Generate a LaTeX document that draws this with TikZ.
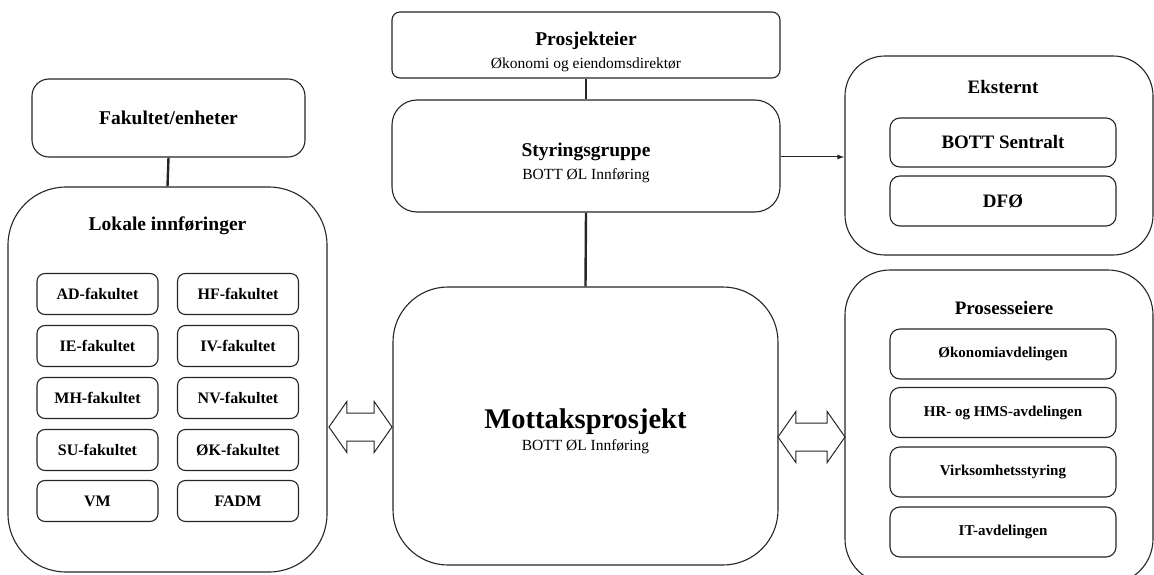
\documentclass[tikz,border=0pt]{standalone}
\usepackage{fontspec}
\setmainfont{Liberation Serif}
\usetikzlibrary{arrows.meta,shapes.arrows}
\newcommand\fTitle{\fontsize{19.5}{23}\selectfont\bfseries}
\newcommand\fSub{\fontsize{15.5}{23}\selectfont\mdseries}
\newcommand\fBig{\fontsize{28.5}{23}\selectfont\bfseries}
\newcommand\fLeft{\fontsize{16}{19}\selectfont\bfseries}
\newcommand\fRight{\fontsize{15}{18}\selectfont\bfseries}
\newcommand\fExt{\fontsize{19}{22}\selectfont\bfseries}
\begin{document}
\begin{tikzpicture}[x=1pt,y=-1pt,
  box/.style={draw=black!85, line width=1.1pt, fill=white, align=center, inner sep=0pt, font=\fSub},
  txt/.style={align=center, inner sep=0pt, font=\fSub},
  conn/.style={line width=2.4pt, draw=black!85},
  dbl/.style={double arrow, draw=black!85, line width=1pt, fill=white, inner xsep=0pt, inner ysep=13.5pt,
     minimum width=50pt, double arrow head extend=11.5pt, double arrow tip angle=110},
  ttl/.style={font=\fTitle, inner sep=0pt},
]
\useasboundingbox (0,0) rectangle (1154,575);
\clip (0,0) rectangle (1154,575);

% central column
\node[box, rounded corners=8pt, minimum width=388pt, minimum height=66pt] (pe) at (586,45) {};
\node[txt] (peT) at (586,52) {{\fTitle Prosjekteier}\\{\fSub Økonomi og eiendomsdirektør}};
\node[box, rounded corners=25pt, minimum width=388pt, minimum height=112pt] (sg) at (586,156) {};
\node[txt] (sgT) at (586,162.5) {{\fTitle Styringsgruppe}\\{\fSub BOTT ØL Innføring}};
\node[box, rounded corners=55pt, minimum width=385pt, minimum height=278pt] (mp) at (585.5,426) {};
\node[txt] (mpT) at (585.5,431) {{\fBig Mottaksprosjekt}\\[-1pt]{\fSub BOTT ØL Innføring}};

% left column
\node[box, rounded corners=17pt, minimum width=273pt, minimum height=78pt, font=\fTitle] (fe) at (168.5,118) {Fakultet/enheter};
\node[box, rounded corners=58pt, minimum width=319pt, minimum height=385pt] (li) at (167.5,379.5) {};
\node[ttl] (liT) at (167.5,226) {Lokale innføringer};

\foreach \nm/\cx/\cy/\tx in {ad/97.5/294/AD-fakultet, hf/238/294/HF-fakultet,
   ie/97.5/346/IE-fakultet, iv/238/346/IV-fakultet,
   mh/97.5/398/MH-fakultet, nv/238/398/NV-fakultet,
   su/97.5/450/SU-fakultet, ok/238/450/ØK-fakultet,
   vm/97.5/501/VM, fadm/238/501/FADM}
  \node[box, rounded corners=8pt, minimum width=121pt, minimum height=41pt, font=\fLeft] (\nm) at (\cx,\cy) {\tx};

% right column
\node[box, rounded corners=40pt, minimum width=308pt, minimum height=199pt] (ek) at (999,155.5) {};
\node[ttl, font=\fExt] (ekT) at (1003,87) {Eksternt};
\node[box, rounded corners=10pt, minimum width=226pt, minimum height=49pt, font=\fExt] (bs) at (1003,142.5) {BOTT Sentralt};
\node[box, rounded corners=10pt, minimum width=226pt, minimum height=50pt, font=\fExt] (dfo) at (1003,201) {DFØ};

\node[box, rounded corners=45pt, minimum width=308pt, minimum height=314pt] (pr) at (999,427) {};
\node[ttl, font=\fExt] (prT) at (1004,308) {Prosesseiere};
\foreach \nm/\cy/\tx in {oa/354/Økonomiavdelingen, hr/412.5/HR- og HMS-avdelingen,
   vs/472/Virksomhetsstyring, it/532/IT-avdelingen}
  \node[box, rounded corners=10pt, minimum width=226pt, minimum height=50pt, font=\fRight] (\nm) at (1003,\cy) {\tx};

% connectors
\draw[conn] (pe.south) -- (sg.north);
\draw[conn] (sg.south) -- (mp.north);
\draw[conn] (fe.south) -- (li.north);
\draw[line width=1pt, draw=black!85, -{Latex[length=7pt,width=5pt]}] (sg.east |- 0,157) -- (ek.west |- 0,157);

\node[dbl, minimum height=63pt] (aL) at (360.5,427) {};
\node[dbl, minimum height=67pt] (aR) at (811.5,437) {};
\end{tikzpicture}
\end{document}
